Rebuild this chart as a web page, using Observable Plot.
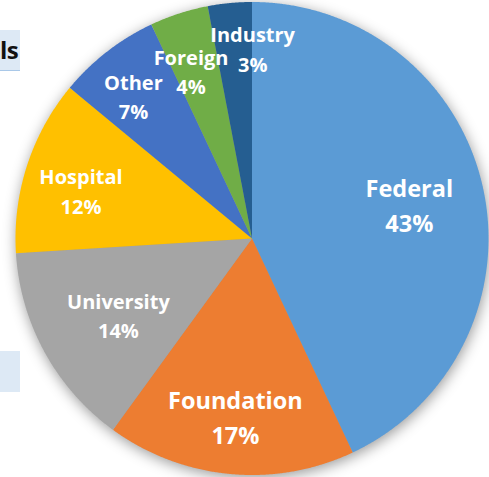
<!DOCTYPE html>
<html>
<head>
<meta charset="utf-8">
<script src="https://cdn.jsdelivr.net/npm/d3@7"></script>
<script src="https://cdn.jsdelivr.net/npm/@observablehq/plot@0.6"></script>
<style>
  html, body { margin: 0; padding: 0; background: #fff; }
  #wrap { position: relative; width: 489px; height: 477px; overflow: hidden; }
  .bgbox { position: absolute; left: 0; width: 20px; background: #dde9f5; }
  #box1 { top: 30px; height: 40px; border-bottom: 1px solid #a9c8e8; font: bold 24px "Open Sans", sans-serif; color: #111; text-align: right; line-height: 40px; letter-spacing: -0.5px; }
  #box2 { top: 351px; height: 41px; }
  #chart { position: absolute; left: 0; top: 0; }
  #chart g[aria-label="line"] { filter: drop-shadow(1px 3px 7px rgba(0,0,0,0.4)); }
</style>
</head>
<body>
<div id="wrap">
  <div class="bgbox" id="box1"><span style="display:inline-block;margin-right:2px">ls</span></div>
  <div class="bgbox" id="box2"></div>
  <div id="chart"></div>
</div>
<script>
const categories = ["Federal", "Foundation", "University", "Hospital", "Other", "Foreign", "Industry"];
const shares = [43, 17, 14, 12, 7, 4, 3];
const percentLabels = ["43%", "17%", "14%", "12%", "7%", "4%", "3%"];
const colors = ["#5B9BD5", "#ED7D31", "#A5A5A5", "#FFC000", "#4472C4", "#70AD47", "#255E91"];
// label placement like Excel's "best fit": radius fraction and angle nudge (degrees)
const labelRadius = [0.68, 0.76, 0.653, 0.75, 0.78, 0.75, 0.80];
const labelNudge = [0.6, -0.1, -1.3, -2.6, -2.2, -2.1, 5.6];
const bigLabels = ["Federal", "Foundation"];

const arcs = d3.pie().sort(null).value(d => d)(shares);

// slice outlines: centre + points along the arc (geometry only)
const outline = [];
arcs.forEach((a, i) => {
  const cat = categories[i];
  outline.push({cat, x: 0, y: 0});
  const n = Math.max(2, Math.ceil((a.endAngle - a.startAngle) / 0.005));
  for (let k = 0; k <= n; k++) {
    const t = a.startAngle + (a.endAngle - a.startAngle) * k / n;
    outline.push({cat, x: Math.sin(t), y: Math.cos(t)});
  }
  outline.push({cat, x: 0, y: 0});
});

const labels = arcs.map((a, i) => {
  const m = (a.startAngle + a.endAngle) / 2 + labelNudge[i] * Math.PI / 180;
  return {
    cat: categories[i],
    text: categories[i] + "\n" + percentLabels[i],
    x: Math.sin(m) * labelRadius[i],
    y: Math.cos(m) * labelRadius[i]
  };
});

const chart = Plot.plot({
  width: 489,
  height: 477,
  margin: 0,
  style: {background: "transparent"},
  x: {domain: [-1, 1], range: [15, 488], axis: null},
  y: {domain: [-1, 1], range: [474.5, 1.5], axis: null},
  color: {domain: categories, range: colors},
  marks: [
    Plot.line(outline, {x: "x", y: "y", z: "cat", fill: "cat", stroke: "none", curve: "linear"}),
    Plot.text(labels.filter(d => !bigLabels.includes(d.cat)), {
      x: "x", y: "y", text: "text", fill: "white", fontWeight: "bold", dy: -2,
      fontSize: 20, lineHeight: 1.48, fontFamily: "Open Sans, sans-serif"
    }),
    Plot.text(labels.filter(d => bigLabels.includes(d.cat)), {
      x: "x", y: "y", text: "text", fill: "white", fontWeight: "bold", dy: -2,
      fontSize: 23.5, lineHeight: 1.5, fontFamily: "Open Sans, sans-serif"
    })
  ]
});
document.getElementById("chart").appendChild(chart);
</script>
</body>
</html>
